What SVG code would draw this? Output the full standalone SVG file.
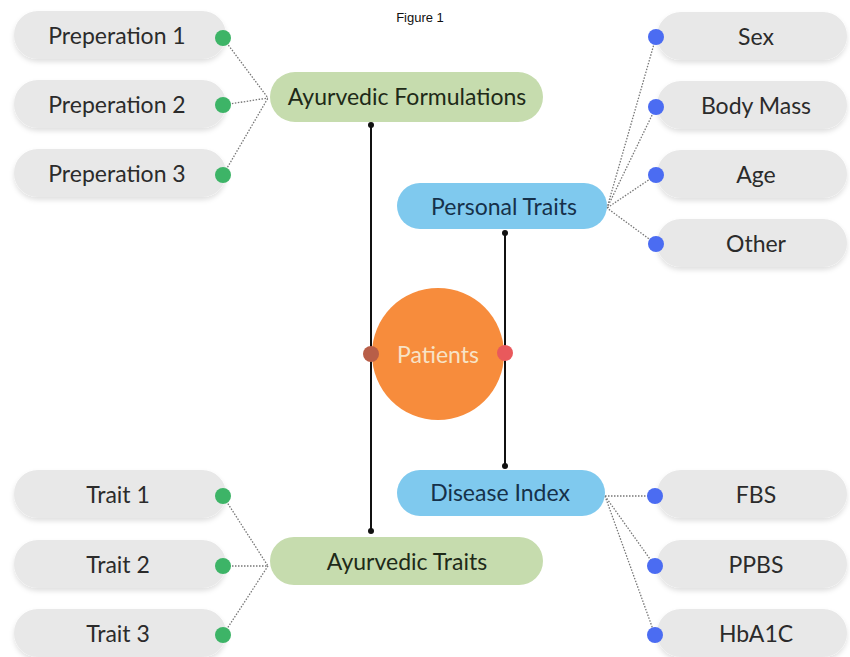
<svg xmlns="http://www.w3.org/2000/svg" width="850" height="657" viewBox="0 0 850 657">
  <defs>
    <filter id="shadow" x="-10%" y="-20%" width="120%" height="160%">
      <feDropShadow dx="0" dy="3" stdDeviation="2.5" flood-color="#000" flood-opacity="0.12"/>
    </filter>
    <style>
      .item { fill: #e8e8e8; filter: url(#shadow); }
      .label { font-family: Lato, "Open Sans", sans-serif; font-size: 23px; text-anchor: middle; dominant-baseline: central; }
      .item-text { fill: #2b2b2b; }
      .green-pill { fill: #c6dcae; }
      .blue-pill { fill: #7fc9ee; }
      .green-text { fill: #1e2a18; }
      .blue-text { fill: #16314a; }
      .gdot { fill: #3db467; }
      .bdot { fill: #4b6cf2; }
      .dotted { stroke: #777; stroke-width: 1.3; stroke-dasharray: 1.5 1.5; fill: none; }
      .link { stroke: #111; stroke-width: 2; fill: none; }
      .end { fill: #111; }
    </style>
  </defs>

  <rect width="850" height="657" fill="#fff"/>
  <text x="420" y="22" font-family="Liberation Sans, Arial, sans-serif" font-size="13" text-anchor="middle" fill="#111">Figure 1</text>

  <!-- connectors -->
  <g id="connectors">
    <!-- formulations fan -->
    <path class="dotted" d="M223 38 L268 98 M223 105 L268 98 M223 175 L268 98"/>
    <!-- personal traits fan -->
    <path class="dotted" d="M656 37 L607 208 M656 107 L607 208 M656 175 L607 208 M656 244 L607 208"/>
    <!-- disease index fan -->
    <path class="dotted" d="M605 496 L655 496 M605 496 L655 566 M605 496 L655 635"/>
    <!-- ayurvedic traits fan -->
    <path class="dotted" d="M223 496 L268 566 M223 566 L268 566 M223 635 L268 566"/>
    <!-- vertical links -->
    <line class="link" x1="371" y1="125" x2="371" y2="531"/>
    <circle class="end" cx="371" cy="125" r="3"/>
    <circle class="end" cx="371" cy="531" r="3"/>
    <line class="link" x1="505" y1="233" x2="505" y2="466"/>
    <circle class="end" cx="505" cy="233" r="3"/>
    <circle class="end" cx="505" cy="466" r="3"/>
  </g>

  <!-- left preparations -->
  <g id="prep1"><rect class="item" x="14" y="11" width="212" height="48" rx="24"/><text class="label item-text" x="117" y="35">Preperation 1</text><circle class="gdot" cx="223" cy="38" r="8"/></g>
  <g id="prep2"><rect class="item" x="14" y="80" width="212" height="48" rx="24"/><text class="label item-text" x="117" y="104">Preperation 2</text><circle class="gdot" cx="223" cy="105" r="8"/></g>
  <g id="prep3"><rect class="item" x="14" y="149" width="212" height="48" rx="24"/><text class="label item-text" x="117" y="173">Preperation 3</text><circle class="gdot" cx="223" cy="175" r="8"/></g>

  <!-- ayurvedic formulations -->
  <g id="formulations"><rect class="green-pill" x="270" y="72" width="273" height="50" rx="25"/><text class="label green-text" x="407" y="96">Ayurvedic Formulations</text></g>

  <!-- personal traits -->
  <g id="personal"><rect class="blue-pill" x="397" y="183" width="210" height="46" rx="23"/><text class="label blue-text" x="504" y="206">Personal Traits</text></g>

  <!-- right personal items -->
  <g id="sex"><rect class="item" x="657" y="12" width="190" height="48" rx="24"/><text class="label item-text" x="756" y="36">Sex</text><circle class="bdot" cx="656" cy="37" r="8"/></g>
  <g id="bodymass"><rect class="item" x="657" y="81" width="190" height="48" rx="24"/><text class="label item-text" x="756" y="105">Body Mass</text><circle class="bdot" cx="656" cy="107" r="8"/></g>
  <g id="age"><rect class="item" x="657" y="150" width="190" height="48" rx="24"/><text class="label item-text" x="756" y="174">Age</text><circle class="bdot" cx="656" cy="175" r="8"/></g>
  <g id="other"><rect class="item" x="657" y="219" width="190" height="48" rx="24"/><text class="label item-text" x="756" y="243">Other</text><circle class="bdot" cx="656" cy="244" r="8"/></g>

  <!-- patients -->
  <g id="patients">
    <circle cx="438" cy="354" r="66" fill="#f78c3c"/>
    <text class="label" x="438" y="354" fill="#f7e3c6">Patients</text>
    <circle cx="371" cy="354" r="8" fill="#b85e48"/>
    <circle cx="505" cy="353" r="8" fill="#e9595c"/>
  </g>

  <!-- disease index -->
  <g id="disease"><rect class="blue-pill" x="397" y="470" width="208" height="46" rx="23"/><text class="label blue-text" x="500" y="492">Disease Index</text></g>

  <!-- ayurvedic traits -->
  <g id="traits"><rect class="green-pill" x="270" y="537" width="273" height="48" rx="24"/><text class="label green-text" x="407" y="561">Ayurvedic Traits</text></g>

  <!-- left traits -->
  <g id="trait1"><rect class="item" x="14" y="470" width="212" height="48" rx="24"/><text class="label item-text" x="118" y="494">Trait 1</text><circle class="gdot" cx="223" cy="496" r="8"/></g>
  <g id="trait2"><rect class="item" x="14" y="540" width="212" height="48" rx="24"/><text class="label item-text" x="118" y="564">Trait 2</text><circle class="gdot" cx="223" cy="566" r="8"/></g>
  <g id="trait3"><rect class="item" x="14" y="609" width="212" height="48" rx="24"/><text class="label item-text" x="118" y="633">Trait 3</text><circle class="gdot" cx="223" cy="635" r="8"/></g>

  <!-- right disease items -->
  <g id="fbs"><rect class="item" x="657" y="470" width="190" height="48" rx="24"/><text class="label item-text" x="756" y="494">FBS</text><circle class="bdot" cx="655" cy="496" r="8"/></g>
  <g id="ppbs"><rect class="item" x="657" y="540" width="190" height="48" rx="24"/><text class="label item-text" x="756" y="564">PPBS</text><circle class="bdot" cx="655" cy="566" r="8"/></g>
  <g id="hba1c"><rect class="item" x="657" y="609" width="190" height="48" rx="24"/><text class="label item-text" x="756" y="633">HbA1C</text><circle class="bdot" cx="655" cy="635" r="8"/></g>
</svg>
